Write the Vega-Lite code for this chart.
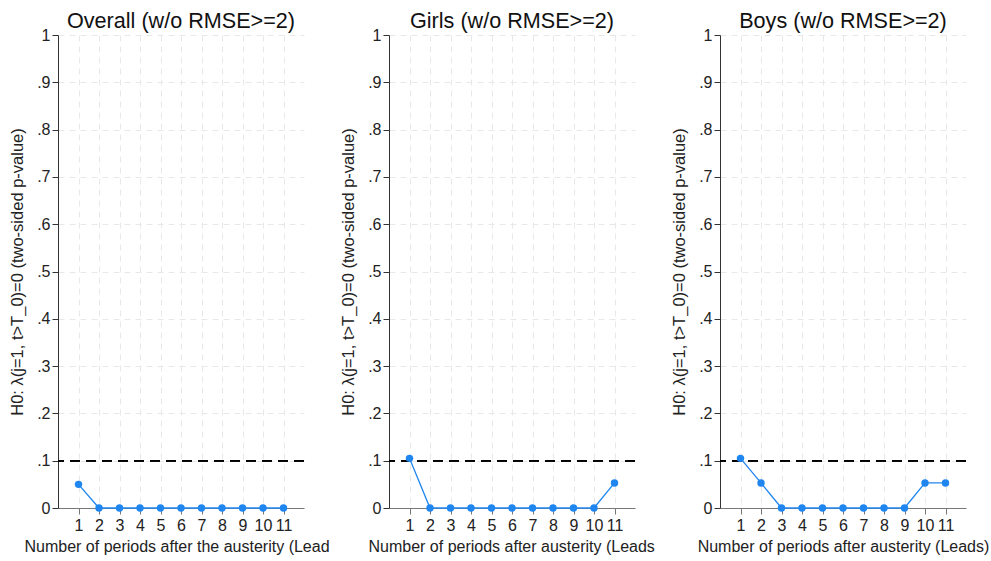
{
  "$schema": "https://vega.github.io/schema/vega-lite/v6.json",
  "background": "white",
  "padding": {"left": 9, "top": 11, "right": 2, "bottom": 4},
  "bounds": "flush",
  "spacing": 85,
  "data": {"name": "pvals"},
  "datasets": {
    "pvals": [
      {"group": "Overall", "lead": 1, "p": 0.05},
      {"group": "Overall", "lead": 2, "p": 0},
      {"group": "Overall", "lead": 3, "p": 0},
      {"group": "Overall", "lead": 4, "p": 0},
      {"group": "Overall", "lead": 5, "p": 0},
      {"group": "Overall", "lead": 6, "p": 0},
      {"group": "Overall", "lead": 7, "p": 0},
      {"group": "Overall", "lead": 8, "p": 0},
      {"group": "Overall", "lead": 9, "p": 0},
      {"group": "Overall", "lead": 10, "p": 0},
      {"group": "Overall", "lead": 11, "p": 0},
      {"group": "Girls", "lead": 1, "p": 0.105},
      {"group": "Girls", "lead": 2, "p": 0},
      {"group": "Girls", "lead": 3, "p": 0},
      {"group": "Girls", "lead": 4, "p": 0},
      {"group": "Girls", "lead": 5, "p": 0},
      {"group": "Girls", "lead": 6, "p": 0},
      {"group": "Girls", "lead": 7, "p": 0},
      {"group": "Girls", "lead": 8, "p": 0},
      {"group": "Girls", "lead": 9, "p": 0},
      {"group": "Girls", "lead": 10, "p": 0},
      {"group": "Girls", "lead": 11, "p": 0.053},
      {"group": "Boys", "lead": 1, "p": 0.105},
      {"group": "Boys", "lead": 2, "p": 0.053},
      {"group": "Boys", "lead": 3, "p": 0},
      {"group": "Boys", "lead": 4, "p": 0},
      {"group": "Boys", "lead": 5, "p": 0},
      {"group": "Boys", "lead": 6, "p": 0},
      {"group": "Boys", "lead": 7, "p": 0},
      {"group": "Boys", "lead": 8, "p": 0},
      {"group": "Boys", "lead": 9, "p": 0},
      {"group": "Boys", "lead": 10, "p": 0.053},
      {"group": "Boys", "lead": 11, "p": 0.053}
    ]
  },
  "config": {
    "font": "Liberation Sans",
    "view": {"stroke": null},
    "title": {"fontSize": 21.6, "fontWeight": "normal", "color": "#111", "offset": -6, "anchor": "middle"},
    "axis": {
      "labelFont": "Liberation Sans",
      "titleFont": "Liberation Sans",
      "labelFontSize": 16,
      "labelColor": "#222",
      "titleFontWeight": "normal",
      "titleColor": "#222",
      "grid": true,
      "gridColor": "#e8e8e8",
      "gridDash": [6, 5],
      "gridWidth": 1,
      "tickSize": 6
    },
    "axisY": {"domainColor": "#333", "tickColor": "#333", "labelPadding": 2, "titlePadding": 11, "titleFontSize": 16.5},
    "axisX": {"domainColor": "#777", "tickColor": "#777", "labelPadding": 3, "titlePadding": 5, "titleFontSize": 16}
  },
  "hconcat": [
    {
      "title": "Overall (w/o RMSE>=2)",
      "width": 246,
      "height": 473,
      "transform": [{"filter": "datum.group === 'Overall'"}],
      "encoding": {
        "x": {"field": "lead", "type": "quantitative", "scale": {"domain": [0, 12], "nice": false},
          "axis": {"values": [1,2,3,4,5,6,7,8,9,10,11], "title": "Number of periods after the austerity (Lead", "titleAlign": "left", "titleAnchor": "start", "titleX": -34}},
        "y": {"field": "p", "type": "quantitative", "scale": {"domain": [0, 1], "nice": false},
          "axis": {"values": [0,0.1,0.2,0.3,0.4,0.5,0.6,0.7,0.8,0.9,1], "labelExpr": "datum.value === 0 ? '0' : datum.value === 1 ? '1' : replace(format(datum.value, '.1f'), '0.', '.')", "title": "H0: λ(j=1, t>T_0)=0 (two-sided p-value)"}}
      },
      "layer": [
        {"mark": {"type": "rule", "color": "#000", "strokeDash": [10, 6], "strokeWidth": 1.3}, "encoding": {"y": {"datum": 0.1}, "x": null}},
        {"mark": {"type": "line", "color": "#1f86f0", "strokeWidth": 1.3, "point": {"filled": true, "size": 55, "color": "#1f86f0"}}}
      ]
    },
    {
      "title": "Girls (w/o RMSE>=2)",
      "width": 246,
      "height": 473,
      "transform": [{"filter": "datum.group === 'Girls'"}],
      "encoding": {
        "x": {"field": "lead", "type": "quantitative", "scale": {"domain": [0, 12], "nice": false},
          "axis": {"values": [1,2,3,4,5,6,7,8,9,10,11], "title": "Number of periods after austerity (Leads", "titleAlign": "left", "titleAnchor": "start", "titleX": -21}},
        "y": {"field": "p", "type": "quantitative", "scale": {"domain": [0, 1], "nice": false},
          "axis": {"values": [0,0.1,0.2,0.3,0.4,0.5,0.6,0.7,0.8,0.9,1], "labelExpr": "datum.value === 0 ? '0' : datum.value === 1 ? '1' : replace(format(datum.value, '.1f'), '0.', '.')", "title": "H0: λ(j=1, t>T_0)=0 (two-sided p-value)"}}
      },
      "layer": [
        {"mark": {"type": "rule", "color": "#000", "strokeDash": [10, 6], "strokeWidth": 1.3}, "encoding": {"y": {"datum": 0.1}, "x": null}},
        {"mark": {"type": "line", "color": "#1f86f0", "strokeWidth": 1.3, "point": {"filled": true, "size": 55, "color": "#1f86f0"}}}
      ]
    },
    {
      "title": "Boys (w/o RMSE>=2)",
      "width": 246,
      "height": 473,
      "transform": [{"filter": "datum.group === 'Boys'"}],
      "encoding": {
        "x": {"field": "lead", "type": "quantitative", "scale": {"domain": [0, 12], "nice": false},
          "axis": {"values": [1,2,3,4,5,6,7,8,9,10,11], "title": "Number of periods after austerity (Leads)"}},
        "y": {"field": "p", "type": "quantitative", "scale": {"domain": [0, 1], "nice": false},
          "axis": {"values": [0,0.1,0.2,0.3,0.4,0.5,0.6,0.7,0.8,0.9,1], "labelExpr": "datum.value === 0 ? '0' : datum.value === 1 ? '1' : replace(format(datum.value, '.1f'), '0.', '.')", "title": "H0: λ(j=1, t>T_0)=0 (two-sided p-value)"}}
      },
      "layer": [
        {"mark": {"type": "rule", "color": "#000", "strokeDash": [10, 6], "strokeWidth": 1.3}, "encoding": {"y": {"datum": 0.1}, "x": null}},
        {"mark": {"type": "line", "color": "#1f86f0", "strokeWidth": 1.3, "point": {"filled": true, "size": 55, "color": "#1f86f0"}}}
      ]
    }
  ]
}
